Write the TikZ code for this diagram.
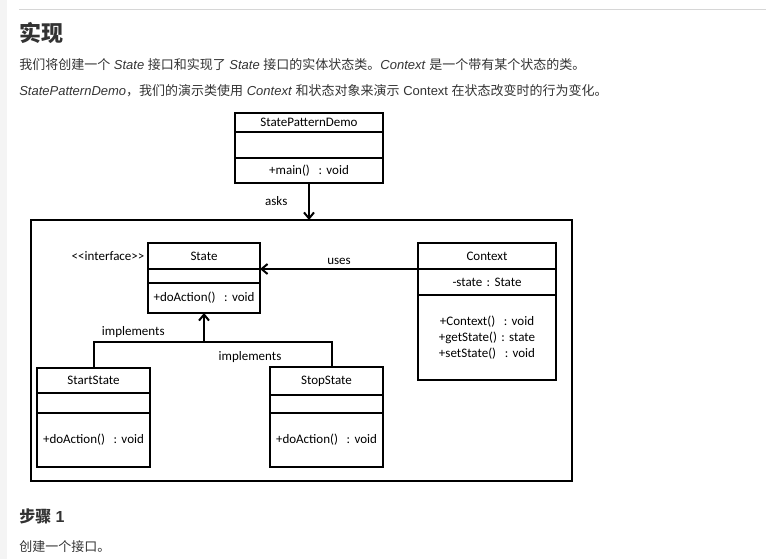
\documentclass[tikz,border=0pt]{standalone}
\usepackage{fontspec}
\setmainfont{Liberation Sans}
\newfontfamily\cjk{Noto Sans CJK SC}
\newfontfamily\umlfont{Carlito}
\usetikzlibrary{arrows.meta,positioning}
\definecolor{Texto}{RGB}{51,51,51}
\definecolor{Regla}{RGB}{214,214,214}
\definecolor{Lateral}{RGB}{244,244,244}
\newcommand{\zh}[1]{{\cjk #1}}
\frenchspacing
\tikzset{
  classbox/.style={draw, line width=1.5pt, text width=#1, align=center,
    font=\umlfont\fontsize{9.75}{12}\selectfont, inner sep=0pt, outer sep=0pt},
  classbox/.default=84pt,
  framebox/.style={draw, line width=1.5pt, inner sep=0pt, outer sep=0pt},
  umlarr/.style={-{Straight Barb[length=4.5pt, width=7.5pt]}, line width=1.5pt},
  umlline/.style={line width=1.5pt},
  umllabel/.style={font=\umlfont\fontsize{9.75}{12}\selectfont, inner sep=1pt},
  webtext/.style={font=\fontsize{9.75}{12}\selectfont, text=Texto, inner sep=0pt, anchor=base west},
}
\begin{document}
\begin{tikzpicture}[x=0.75pt, y=-0.75pt]
  \useasboundingbox (0,0) rectangle (766,559);
  \fill[Lateral] (0,0) rectangle (7,559);
  \draw[Regla, line width=0.75pt] (19,9.5) -- (766,9.5);

  % ---- texto de la pagina ----
  \node[webtext, font=\cjk\bfseries\fontsize{16.5}{20}\selectfont] (titulo) at (19,42) {实现};
  \node[webtext] (linea1) at (19,70) {\zh{我们将创建一个} \textit{State} \zh{接口和实现了} \textit{State} \zh{接口的实体状态类。}\textit{Context} \zh{是一个带有某个状态的类。}};
  \node[webtext] (linea2) at (19,96) {\textit{StatePatternDemo}\zh{，我们的演示类使用} \textit{Context} \zh{和状态对象来演示} Context \zh{在状态改变时的行为变化。}};
  \node[webtext, font=\bfseries\fontsize{12}{14}\selectfont] (paso) at (19,522) {\zh{步骤} 1};
  \node[webtext] (crear) at (19,551) {\zh{创建一个接口。}};

  % ---- diagrama ----
  \node[framebox, minimum width=405.75pt, minimum height=195.75pt, anchor=north west] (pkgframe) at (31,220) {};

  \node[classbox=111pt, minimum height=14.25pt, anchor=north] (demoname) at (309,113) {StatePatternDemo};
  \node[classbox=111pt, minimum height=19.5pt, below=0pt of demoname] (demoattr) {};
  \node[classbox=111pt, minimum height=18.75pt, below=0pt of demoattr] (demoops) {+main()~ : void};

  \node[classbox=84pt, minimum height=19.5pt, anchor=north] (statename) at (204,243) {State};
  \node[classbox=84pt, minimum height=10.5pt, below=0pt of statename] (stateattr) {};
  \node[classbox=84pt, minimum height=22.5pt, below=0pt of stateattr] (stateops) {+doAction()~ : void};
  \node[umllabel, left=1.5pt of statename] (stereo) {\textless\textless interface\textgreater\textgreater};

  \node[classbox=103.5pt, minimum height=19.5pt, anchor=north] (ctxname) at (487,243) {Context};
  \node[classbox=103.5pt, minimum height=19.5pt, below=0pt of ctxname] (ctxattr) {-state : State};
  \node[classbox=103.5pt, minimum height=63.75pt, below=0pt of ctxattr] (ctxops) {+Context()~ : void\\ +getState() : state\\ +setState()~ : void};

  \node[classbox=84.75pt, minimum height=18.75pt, anchor=north] (startname) at (93.5,368) {StartState};
  \node[classbox=84.75pt, minimum height=15pt, below=0pt of startname] (startattr) {};
  \node[classbox=84.75pt, minimum height=40.5pt, below=0pt of startattr] (startops) {+doAction()~ : void};

  \node[classbox=84.75pt, minimum height=21pt, anchor=north] (stopname) at (326.5,367) {StopState};
  \node[classbox=84.75pt, minimum height=13.5pt, below=0pt of stopname] (stopattr) {};
  \node[classbox=84.75pt, minimum height=40.5pt, below=0pt of stopattr] (stopops) {+doAction()~ : void};

  \coordinate (impl) at (204,342);

  \draw[umlarr] (demoops.south) -- (demoops.south |- pkgframe.north) node[umllabel, midway, left=14.5pt] {asks};
  \draw[umlarr] (ctxname.south west) -- (statename.south east) node[umllabel, midway, above=1.3pt] {uses};
  \draw[umlarr] (impl) -- (stateops.south);
  \draw[umlline] (startname.north) |- (impl) node[umllabel, pos=0.68, above=1.3pt] {implements};
  \draw[umlline] (impl) -| ([xshift=4pt]stopname.north) node[umllabel, pos=0.18, below=5.5pt] {implements};
\end{tikzpicture}
\end{document}
